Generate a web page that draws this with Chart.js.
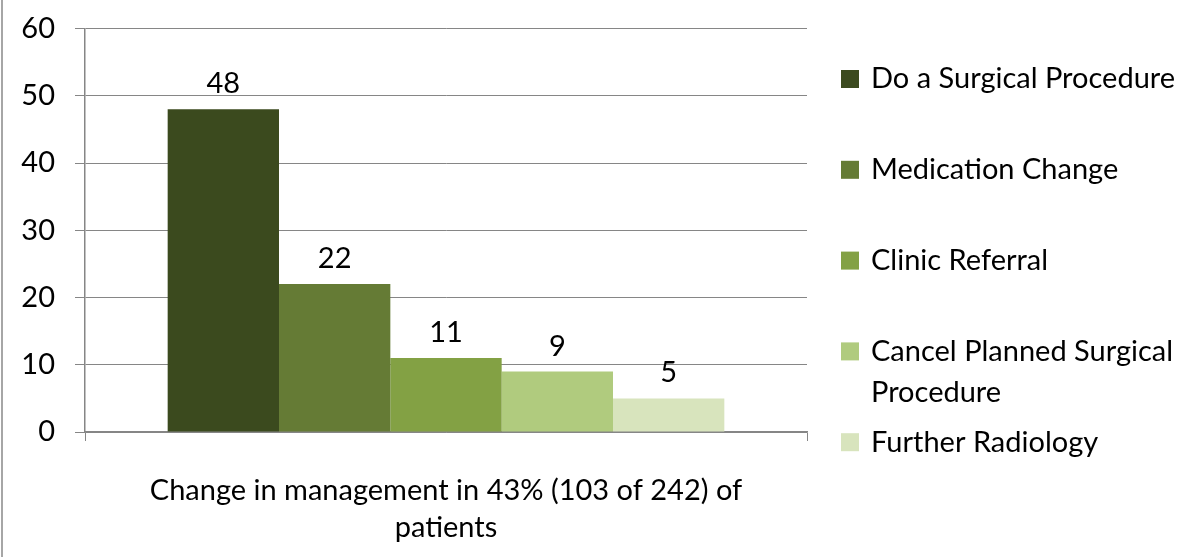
<!DOCTYPE html>
<html>
<head>
<meta charset="utf-8">
<script src="https://cdn.jsdelivr.net/npm/chart.js@4.4.1/dist/chart.umd.min.js"></script>
<style>
  html, body { margin: 0; padding: 0; background: #fff; }
  #wrap { width: 1200px; height: 557px; }
</style>
</head>
<body>
<div id="wrap"><canvas id="chart" width="1200" height="557"></canvas></div>
<script>
// data
const categories = [["Change in management in 43% (103 of 242) of", "patients"]];
const seriesNames = ["Do a Surgical Procedure", "Medication Change", "Clinic Referral", "Cancel Planned Surgical Procedure", "Further Radiology"];
const seriesValues = [48, 22, 11, 9, 5];
const seriesColors = ["#3b4a1e", "#657b35", "#83a144", "#b0cb7e", "#d8e4bd"];
const yTicks = [0, 10, 20, 30, 40, 50, 60];

const FONT = "Lato, 'Open Sans', sans-serif";
const FSIZE = 29;

// white background + the thin grey frame line on the left
const frame = {
    id: "frame",
    beforeDraw(chart) {
        const c = chart.ctx;
        c.save();
        c.fillStyle = "#fff";
        c.fillRect(0, 0, chart.width, chart.height);
        c.strokeStyle = "#a6a6a6";
        c.lineWidth = 2;
        c.beginPath();
        c.moveTo(2, 0);
        c.lineTo(2, chart.height);
        c.stroke();
        c.restore();
    }
};

// value labels above the bars
const valueLabels = {
    id: "valueLabels",
    afterDatasetsDraw(chart) {
        const c = chart.ctx;
        c.save();
        c.font = FSIZE + "px " + FONT;
        c.fillStyle = "#000";
        c.textAlign = "center";
        c.textBaseline = "alphabetic";
        chart.data.datasets.forEach((ds, i) => {
            chart.getDatasetMeta(i).data.forEach((bar, j) => {
                c.fillText(String(ds.data[j]), bar.x, bar.y - 16);
            });
        });
        c.restore();
    }
};

// legend on the right, with word wrap like the original
const sideLegend = {
    id: "sideLegend",
    afterDraw(chart) {
        const c = chart.ctx;
        const x0 = 841, tx = 871, maxW = chart.width - tx - 4;
        const top = 79, step = 90.8, lineH = 41, box = 18;
        c.save();
        c.font = FSIZE + "px " + FONT;
        c.textBaseline = "middle";
        c.textAlign = "left";
        chart.data.datasets.forEach((ds, i) => {
            const cy = top + step * i;
            c.fillStyle = ds.backgroundColor;
            c.fillRect(x0, cy - box / 2, box, box);
            // wrap words
            const words = ds.label.split(" ");
            let lines = [], cur = "";
            words.forEach(w => {
                const t = cur ? cur + " " + w : w;
                if (c.measureText(t).width > maxW && cur) { lines.push(cur); cur = w; }
                else cur = t;
            });
            lines.push(cur);
            c.fillStyle = "#000";
            lines.forEach((ln, k) => c.fillText(ln, tx, cy + k * lineH));
        });
        c.restore();
    }
};

const datasets = seriesNames.map((name, i) => ({
    label: name,
    data: [seriesValues[i]],
    backgroundColor: seriesColors[i],
    borderWidth: 0,
    barPercentage: 1,
    categoryPercentage: 0.771
}));

new Chart(document.getElementById("chart"), {
    type: "bar",
    data: { labels: categories, datasets: datasets },
    options: {
        responsive: false,
        animation: false,
        layout: { padding: { top: 24.5, right: 393, left: 0, bottom: 0 } },
        plugins: { legend: { display: false }, tooltip: { enabled: false } },
        scales: {
            x: {
                offset: true,
                grid: { offset: true, drawOnChartArea: false, drawTicks: true, tickLength: 9, color: "#868686" },
                border: { color: "#868686", width: 1.5 },
                ticks: { color: "#000", font: { family: FONT, size: FSIZE, lineHeight: 1.28 }, padding: 31, maxRotation: 0 },
                afterFit(s) { s.height = 125; }
            },
            y: {
                min: 0,
                max: 60,
                afterBuildTicks(s) { s.ticks = yTicks.map(v => ({ value: v })); },
                grid: { color: "#868686", tickLength: 10, lineWidth: 1 },
                border: { color: "#868686", width: 1.5 },
                ticks: { color: "#000", font: { family: FONT, size: FSIZE, lineHeight: 0.6 }, padding: 20 },
                afterFit(s) { s.width = 85; }
            }
        }
    },
    plugins: [frame, valueLabels, sideLegend]
});
</script>
</body>
</html>
